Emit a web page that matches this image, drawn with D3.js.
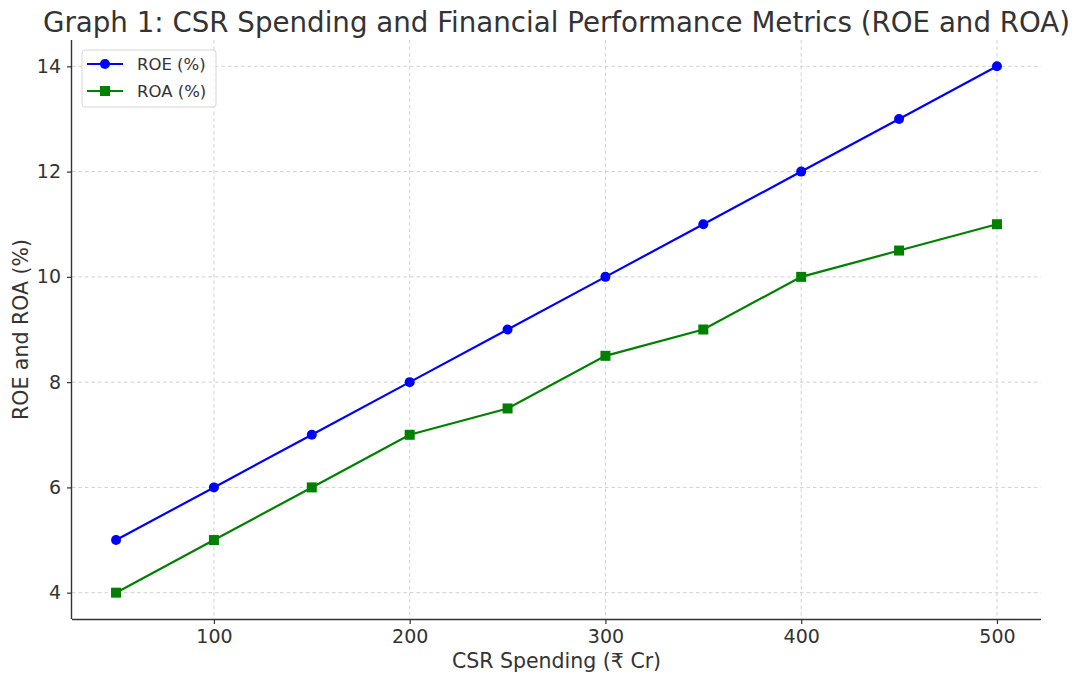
<!DOCTYPE html>
<html>
<head>
<meta charset="utf-8">
<script src="https://cdn.jsdelivr.net/npm/d3@7"></script>
<style>
  body { margin: 0; background: #fff; }
  text { font-family: "DejaVu Sans", sans-serif; }
</style>
</head>
<body>
<div id="chart-area"></div>
<script>
// data
var spending = [50, 100, 150, 200, 250, 300, 350, 400, 450, 500];
var roe = [5, 6, 7, 8, 9, 10, 11, 12, 13, 14];
var roa = [4, 5, 6, 7, 7.5, 8.5, 9, 10, 10.5, 11];
var xTicks = [100, 200, 300, 400, 500];
var yTicks = [4, 6, 8, 10, 12, 14];

var margin = { left: 72, right: 35, top: 40, bottom: 58 };
var width = 1076 - margin.left - margin.right,
    height = 677 - margin.top - margin.bottom;

var svg = d3.select("#chart-area")
    .append("svg")
        .attr("width", 1076)
        .attr("height", 677);

var g = svg.append("g")
    .attr("transform", "translate(" + margin.left + "," + margin.top + ")");

var x = d3.scaleLinear()
    .domain([27.5, 522.5])
    .range([0, width]);

var y = d3.scaleLinear()
    .domain([3.5, 14.5])
    .range([height, 0]);

// Grid
g.selectAll(".vgrid")
    .data(xTicks)
    .enter().append("line")
        .attr("x1", function(d){ return x(d); })
        .attr("x2", function(d){ return x(d); })
        .attr("y1", 0)
        .attr("y2", height)
        .attr("stroke", "#cccccc")
        .attr("stroke-width", 0.9)
        .attr("stroke-dasharray", "3.5,3");

g.selectAll(".hgrid")
    .data(yTicks)
    .enter().append("line")
        .attr("y1", function(d){ return y(d); })
        .attr("y2", function(d){ return y(d); })
        .attr("x1", 0)
        .attr("x2", width)
        .attr("stroke", "#cccccc")
        .attr("stroke-width", 0.9)
        .attr("stroke-dasharray", "3.5,3");

// Axes
var xAxisCall = d3.axisBottom(x)
    .tickValues(xTicks)
    .tickSize(5)
    .tickPadding(6);
var xAxisGroup = g.append("g")
    .attr("transform", "translate(0," + height + ")")
    .call(xAxisCall);

var yAxisCall = d3.axisLeft(y)
    .tickValues(yTicks)
    .tickSize(5)
    .tickPadding(6);
var yAxisGroup = g.append("g")
    .call(yAxisCall);

[xAxisGroup, yAxisGroup].forEach(function(ax){
    ax.select(".domain").attr("stroke", "#333").attr("stroke-width", 1.4)
        .attr("d", ax === xAxisGroup ? "M0,0.5H" + width : "M-0.5,0V" + height);
    ax.selectAll(".tick line").attr("stroke", "#333").attr("stroke-width", 1.2);
    ax.selectAll(".tick text")
        .attr("font-size", "19px")
        .attr("fill", "#333")
        .style("font-family", "DejaVu Sans");
});

// Labels
svg.append("text")
    .attr("x", margin.left + width / 2)
    .attr("y", 32)
    .attr("text-anchor", "middle")
    .attr("font-size", "27.7px")
    .attr("fill", "#333")
    .text("Graph 1: CSR Spending and Financial Performance Metrics (ROE and ROA)");

svg.append("text")
    .attr("x", margin.left + width / 2)
    .attr("y", 668)
    .attr("text-anchor", "middle")
    .attr("font-size", "20.5px")
    .attr("fill", "#333")
    .text("CSR Spending (₹ Cr)");

svg.append("text")
    .attr("transform", "translate(28," + (margin.top + height / 2) + ") rotate(-90)")
    .attr("text-anchor", "middle")
    .attr("font-size", "20.5px")
    .attr("fill", "#333")
    .text("ROE and ROA (%)");

// Lines
var series = [
    { name: "ROE (%)", values: roe, color: "#0000ff", marker: "circle" },
    { name: "ROA (%)", values: roa, color: "#008000", marker: "square" }
];

var line = d3.line()
    .x(function(d){ return x(d[0]); })
    .y(function(d){ return y(d[1]); });

series.forEach(function(s){
    var pts = spending.map(function(v, i){ return [v, s.values[i]]; });
    g.append("path")
        .datum(pts)
        .attr("fill", "none")
        .attr("stroke", s.color)
        .attr("stroke-width", 2.2)
        .attr("d", line);

    if (s.marker === "circle") {
        g.selectAll(".m-roe")
            .data(pts)
            .enter().append("circle")
                .attr("cx", function(d){ return x(d[0]); })
                .attr("cy", function(d){ return y(d[1]); })
                .attr("r", 5)
                .attr("fill", s.color);
    } else {
        g.selectAll(".m-roa")
            .data(pts)
            .enter().append("rect")
                .attr("x", function(d){ return x(d[0]) - 5; })
                .attr("y", function(d){ return y(d[1]) - 5; })
                .attr("width", 10)
                .attr("height", 10)
                .attr("fill", s.color);
    }
});

// Legend
var legend = g.append("g")
    .attr("transform", "translate(10,10)");

legend.append("rect")
    .attr("width", 134)
    .attr("height", 57)
    .attr("rx", 3)
    .attr("fill", "#fff")
    .attr("fill-opacity", 0.8)
    .attr("stroke", "#d6d6d6");

series.forEach(function(s, i){
    var ly = 14 + i * 27;
    legend.append("line")
        .attr("x1", 5).attr("x2", 41)
        .attr("y1", ly).attr("y2", ly)
        .attr("stroke", s.color)
        .attr("stroke-width", 2.2);
    if (s.marker === "circle") {
        legend.append("circle").attr("cx", 23).attr("cy", ly).attr("r", 5).attr("fill", s.color);
    } else {
        legend.append("rect").attr("x", 18).attr("y", ly - 5).attr("width", 10).attr("height", 10).attr("fill", s.color);
    }
    legend.append("text")
        .attr("x", 55)
        .attr("y", ly + 6)
        .attr("font-size", "16.5px")
        .attr("fill", "#333")
        .text(s.name);
});
</script>
</body>
</html>
